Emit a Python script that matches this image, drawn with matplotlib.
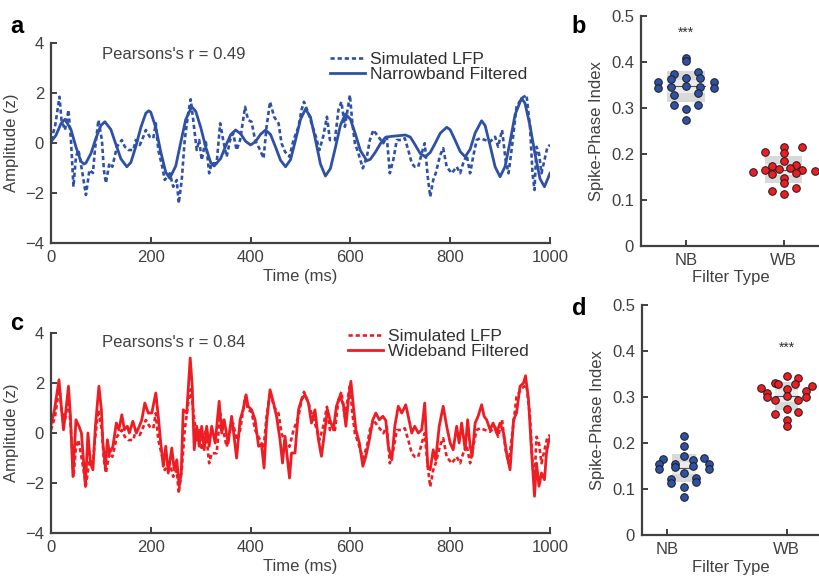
import numpy as np
import matplotlib.pyplot as plt
from matplotlib.patches import Rectangle

plt.rcParams["font.family"] = ["Liberation Sans", "DejaVu Sans"]

BLUE = "#2F51A5"
RED = "#EE1D23"
AXC = "#404040"

# ---------------- data ----------------
# simulated LFP (same signal in a and c), read point by point
lfp_t = [0, 8, 17, 21, 28, 35, 40, 45, 50, 55,
         62, 70, 77, 84, 88, 95, 102, 106, 110, 117,
         123, 132, 142, 148, 155, 165, 170, 178, 185, 190,
         198, 205, 210, 215, 223, 228, 238, 245, 252, 256,
         262, 268, 275, 280, 285, 292, 297, 302, 310, 317,
         322, 332, 339, 345, 352, 359, 365, 372, 379, 389,
         395, 402, 409, 419, 426, 432, 439, 447, 456, 462,
         469, 478, 486, 496, 502, 507, 516, 522, 531, 538,
         546, 553, 559, 569, 576, 582, 589, 599, 604, 609,
         616, 625, 633, 639, 646, 656, 666, 673, 679, 686,
         693, 703, 709, 716, 723, 729, 736, 743, 749, 755,
         760, 766, 771, 780, 786, 793, 803, 813, 820, 826,
         833, 840, 846, 853, 860, 870, 880, 890, 896, 904,
         911, 917, 923, 933, 943, 953, 960, 965, 969, 973,
         978, 983, 989, 995, 1000]
lfp_v = [0.12, 0.65, 1.85, 0.92, 0.52, 1.32, 0.12, -1.75, -0.55, -0.28,
         -1.08, -2.08, -1.08, -1.20, -0.28, 0.92, 0.12, -1.08, -1.60, -0.81,
         -0.95, -0.15, 0.12, -0.15, -0.28, -0.28, 0.12, -0.08, 0.25, 0.52,
         0.25, 0.19, 0.79, -0.28, -0.95, -1.48, -1.21, -1.75, -1.48, -2.41,
         -1.48, 0.12, 1.19, 1.75, 0.92, -0.28, 0.12, -0.68, 0.12, -1.21,
         -0.81, -0.81, 0.79, 0.12, -0.55, 0.12, 0.39, -0.28, 0.12, 1.45,
         0.92, 0.85, 0.12, -0.28, -0.61, 0.65, 1.65, 1.05, 0.79, -0.01,
         -0.35, -0.55, 0.12, 0.65, 1.32, 1.65, 1.19, 0.79, 0.25, -0.28,
         0.30, 1.05, 0.12, 0.12, 1.32, 1.65, 0.65, 1.92, 0.79, -0.01,
         -0.41, -1.01, -0.55, 0.12, 0.52, 0.25, -0.01, 0.25, -1.21, -0.68,
         0.12, 0.12, 0.19, -0.28, -0.81, -0.95, -0.95, -0.41, -0.01, -1.35,
         -2.15, -1.48, -1.21, -0.48, -0.21, -0.95, -1.21, -0.95, -1.21, -0.81,
         -0.48, -1.21, -0.55, 0.12, 0.19, 0.12, 0.05, 0.25, -0.15, 0.52,
         -0.68, -1.21, -0.28, 1.45, 1.79, 1.92, 0.65, -1.21, -1.88, -0.15,
         -0.41, -1.21, -0.68, -0.15, -0.08]

# narrowband filtered (every ~10 ms plus the peaks and troughs)
nb_t = [0, 10, 20, 28, 40, 50, 60, 66, 70, 80,
        90, 100, 108, 120, 130, 140, 152, 160, 170, 180,
        190, 196, 200, 210, 220, 230, 238, 250, 260, 270,
        282, 290, 300, 310, 320, 327, 340, 350, 360, 370,
        380, 390, 400, 410, 420, 430, 440, 450, 460, 470,
        480, 490, 500, 510, 520, 530, 540, 550, 560, 570,
        580, 590, 600, 610, 620, 633, 640, 650, 660, 670,
        680, 690, 700, 710, 720, 730, 740, 750, 760, 770,
        780, 793, 800, 810, 820, 830, 840, 850, 863, 870,
        880, 890, 900, 910, 920, 930, 943, 950, 960, 970,
        980, 989, 1000]
nb_v = [0.05, 0.31, 0.78, 0.95, 0.54, -0.16, -0.73, -0.84, -0.80, -0.42,
        0.19, 0.70, 0.85, 0.54, -0.05, -0.63, -0.95, -0.78, -0.14, 0.62,
        1.19, 1.29, 1.23, 0.62, -0.36, -1.17, -1.41, -0.92, 0.02, 0.94,
        1.45, 1.27, 0.63, -0.16, -0.78, -0.92, -0.62, -0.12, 0.33, 0.52,
        0.37, 0.07, -0.08, 0.06, 0.35, 0.52, 0.34, -0.16, -0.69, -0.95,
        -0.67, 0.11, 0.94, 1.36, 1.04, 0.13, -0.84, -1.32, -1.02, -0.18,
        0.71, 1.16, 0.95, 0.36, -0.30, -0.71, -0.65, -0.37, -0.03, 0.22,
        0.26, 0.28, 0.30, 0.32, 0.24, -0.08, -0.42, -0.55, -0.38, -0.01,
        0.39, 0.63, 0.53, 0.11, -0.34, -0.55, -0.25, 0.40, 0.89, 0.70,
        -0.10, -0.95, -1.35, -0.94, 0.05, 1.13, 1.79, 1.59, 0.69, -0.44,
        -1.43, -1.75, -1.21]

# wideband filtered, read point by point
wb_t = [0, 7, 16, 20, 25, 30, 35, 39, 44, 50,
        56, 61, 69, 74, 79, 84, 89, 96, 101, 104,
        109, 113, 117, 124, 131, 136, 142, 147, 153, 157,
        164, 171, 177, 182, 188, 195, 202, 210, 215, 220,
        225, 230, 235, 242, 247, 252, 257, 261, 265, 272,
        279, 283, 287, 292, 297, 302, 307, 312, 317, 322,
        329, 337, 342, 347, 355, 362, 366, 372, 379, 385,
        391, 395, 402, 409, 416, 422, 427, 432, 439, 446,
        452, 459, 464, 469, 474, 478, 482, 489, 496, 502,
        509, 516, 522, 529, 536, 542, 549, 554, 559, 566,
        572, 579, 586, 591, 596, 601, 606, 611, 618, 625,
        631, 638, 645, 651, 658, 665, 671, 676, 683, 689,
        696, 703, 711, 716, 723, 729, 736, 743, 749, 755,
        760, 766, 771, 778, 786, 793, 800, 806, 813, 818,
        823, 830, 835, 840, 844, 850, 856, 863, 868, 873,
        880, 886, 893, 900, 907, 913, 920, 927, 933, 940,
        947, 951, 957, 962, 969, 973, 978, 983, 989, 993,
        998, 1000]
wb_v = [0.33, 0.93, 2.13, 1.20, 0.13, 0.93, 1.87, 0.67, -1.74, 0.53,
        0.27, 0.00, -2.14, 0.00, -1.20, -1.47, 0.27, 1.87, 0.93, -0.40,
        -1.40, -0.27, -0.80, -0.54, 0.40, 0.13, 0.73, 0.13, 0.27, 0.00,
        0.47, 0.00, 0.27, 0.53, 1.20, 0.80, 0.80, 1.60, 0.67, -0.40,
        -1.33, -0.53, -1.60, -0.60, -1.47, -1.07, -2.13, -1.60, 0.93, 0.80,
        3.00, 1.87, -0.67, 0.27, -0.53, 0.27, -0.67, 0.27, -0.53, 0.27,
        -0.40, 1.27, 0.00, 0.53, -0.40, 0.67, 0.00, -1.00, 0.53, 0.93,
        1.53, 1.07, 0.93, 0.53, -0.53, -0.47, -1.40, 0.40, 1.73, 1.20,
        0.67, -0.27, -1.20, -0.13, -1.07, -1.80, -0.80, -0.80, 0.93, 1.33,
        1.53, 1.20, 0.40, 0.93, -0.27, -0.93, 0.13, 0.93, 0.53, 0.13,
        1.07, 1.47, 1.13, 0.27, 1.33, 2.07, 1.07, 0.13, -0.40, -1.33,
        -0.93, -0.27, 0.53, 0.80, 0.53, 0.67, 0.50, -0.53, -1.07, 0.27,
        1.07, 0.80, 1.13, 0.67, 0.00, 0.27, 0.00, 0.13, 1.20, -1.33,
        -1.47, -0.67, -1.07, 0.27, 1.07, 0.27, -0.40, -0.67, 0.27, -0.40,
        0.40, -0.67, 0.53, -0.53, -0.93, 0.40, 0.67, 1.13, 0.67, 0.53,
        0.13, 0.40, 0.00, 0.40, 0.00, -0.80, -1.47, 0.53, 0.80, 1.87,
        2.00, 2.29, 1.33, -0.40, -2.53, -1.20, -2.13, -1.60, -1.87, -0.80,
        -0.27, -0.20]

# spike-phase index per cell, with swarm offsets
spi_b_nb = [0.409, 0.401, 0.355, 0.343, 0.355, 0.343, 0.373, 0.378, 0.362, 0.364,
            0.364, 0.344, 0.348, 0.346, 0.331, 0.328, 0.306, 0.306, 0.297, 0.273]
jit_b_nb = [0, 0, -0.29, -0.29, 0.29, 0.29, -0.12, 0.12, -0.15, 0,
            0.14, -0.15, 0, 0.14, 0.12, -0.12, -0.12, 0.12, 0, 0]
spi_b_wb = [0.204, 0.215, 0.214, 0.201, 0.184, 0.173, 0.176, 0.161, 0.164, 0.166,
            0.170, 0.164, 0.162, 0.156, 0.157, 0.148, 0.137, 0.119, 0.125, 0.112]
jit_b_wb = [-0.19, 0, 0.19, 0, 0, -0.12, 0.12, -0.32, -0.19, -0.05,
            0.06, 0.19, 0.32, -0.12, 0.12, 0, 0, -0.12, 0.12, 0]

spi_d_nb = [0.216, 0.194, 0.172, 0.166, 0.168, 0.154, 0.143, 0.154, 0.147, 0.162,
            0.151, 0.154, 0.143, 0.134, 0.121, 0.114, 0.125, 0.115, 0.104, 0.082]
jit_d_nb = [0, 0, 0, -0.17, 0.166, -0.21, -0.21, -0.07, -0.07, 0.077,
            0.077, 0.21, 0.21, 0, -0.105, -0.105, 0.105, 0.105, 0, 0]
spi_d_wb = [0.346, 0.331, 0.342, 0.328, 0.329, 0.320, 0.325, 0.309, 0.312, 0.318,
            0.299, 0.293, 0.302, 0.293, 0.299, 0.275, 0.262, 0.267, 0.250, 0.237]
jit_d_wb = [0, -0.10, 0.10, -0.07, 0.07, -0.21, 0.21, -0.166, 0.166, 0,
            -0.166, -0.10, 0, 0.10, 0.166, 0, -0.10, 0.10, 0, 0]

groups = ["NB", "WB"]


def style_axes(ax):
    for s in ["top", "right"]:
        ax.spines[s].set_visible(False)
    for s in ["left", "bottom"]:
        ax.spines[s].set_color(AXC)
        ax.spines[s].set_linewidth(1.6)
    ax.tick_params(direction="in", length=4, width=1.4, color=AXC,
                   labelcolor=AXC, labelsize=12, pad=5)


def plot_trace(ax, filt_t, filt_v, color, filt_label, r_text, leg_anchor, txt_y):
    ax.plot(lfp_t, lfp_v, color=color, lw=1.9, ls=(0, (1.6, 1.1)),
            label="Simulated LFP")
    ax.plot(filt_t, filt_v, color=color, lw=2.0, solid_joinstyle="round",
            label=filt_label)
    ax.set_xlim(0, 1000)
    ax.set_ylim(-4, 4)
    ax.set_xticks([0, 200, 400, 600, 800, 1000])
    ax.set_yticks([-4, -2, 0, 2, 4])
    ax.set_xlabel("Time (ms)", fontsize=12, color=AXC, labelpad=3)
    ax.set_ylabel("Amplitude (z)", fontsize=12, color=AXC, labelpad=4)
    ax.text(0.102, txt_y, r_text, transform=ax.transAxes, fontsize=12,
            color=AXC, va="center", ha="left")
    leg = ax.legend(loc="upper left", bbox_to_anchor=leg_anchor, frameon=False,
                    fontsize=12.5, handlelength=2.0, handletextpad=0.3,
                    labelspacing=0.0, borderpad=0, borderaxespad=0)
    for t in leg.get_texts():
        t.set_color("#303030")
    style_axes(ax)


def plot_swarm(ax, sets, centers, half_w, xlim, star_x, star_y):
    for (vals, jit, fc), c in zip(sets, centers):
        vals = np.asarray(vals)
        m = vals.mean()
        sd = vals.std(ddof=1)
        ci = 1.96 * sd / np.sqrt(len(vals))
        ax.add_patch(Rectangle((c - half_w, m - sd), 2 * half_w, 2 * sd,
                               facecolor="#d9d9d9", edgecolor="none", zorder=1))
        ax.add_patch(Rectangle((c - half_w, m - ci), 2 * half_w, 2 * ci,
                               facecolor="#ebebeb", edgecolor="none", zorder=1))
        ax.plot([c - half_w, c + half_w], [m, m], color="#555555", lw=0.8, zorder=2)
        ax.scatter(c + np.asarray(jit), vals, s=30, facecolor=fc,
                   edgecolor="#1a1a1a", linewidths=0.7, zorder=3)
    ax.text(star_x, star_y, "***", ha="center", va="center", fontsize=10, color="#303030")
    ax.set_xlim(*xlim)
    ax.set_ylim(0, 0.5)
    ax.set_xticks([1, 2])
    ax.set_xticklabels(groups)
    ax.set_yticks([0, 0.1, 0.2, 0.3, 0.4, 0.5])
    ax.set_yticklabels(["0", "0.1", "0.2", "0.3", "0.4", "0.5"])
    ax.set_xlabel("Filter Type", fontsize=12, color=AXC, labelpad=2)
    ax.set_ylabel("Spike-Phase Index", fontsize=12, color=AXC, labelpad=5)
    style_axes(ax)


fig = plt.figure(figsize=(8.2, 5.86), dpi=100)
ax_a = fig.add_axes([0.0622, 0.5853, 0.6085, 0.3413])
ax_c = fig.add_axes([0.0622, 0.0904, 0.6085, 0.3413])
ax_b = fig.add_axes([0.7817, 0.5807, 0.2183, 0.3925])
ax_d = fig.add_axes([0.7829, 0.0870, 0.2171, 0.3925])

plot_trace(ax_a, nb_t, nb_v, BLUE, "Narrowband Filtered", "Pearsons's r = 0.49",
           (0.559, 0.9575), 0.945)
plot_trace(ax_c, wb_t, wb_v, RED, "Wideband Filtered", "Pearsons's r = 0.84",
           (0.595, 1.02), 0.955)

plot_swarm(ax_b, [(spi_b_nb, jit_b_nb, BLUE), (spi_b_wb, jit_b_wb, RED)],
           [1.0, 2.0], 0.19, (0.54, 2.37), 1.0, 0.462)
plot_swarm(ax_d, [(spi_d_nb, jit_d_nb, BLUE), (spi_d_wb, jit_d_wb, RED)],
           [1.14, 2.0], 0.10, (0.79, 2.28), 2.0, 0.408)

for x, y, s in [(0.012, 0.975, "a"), (0.697, 0.975, "b"),
                (0.012, 0.467, "c"), (0.697, 0.494, "d")]:
    fig.text(x, y, s, fontsize=17, fontweight="bold", va="top", ha="left")

fig.savefig("out.png", dpi=100, facecolor="white")
